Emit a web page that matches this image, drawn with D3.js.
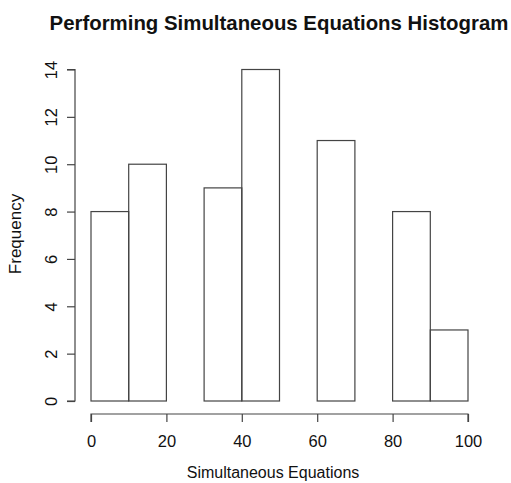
<!DOCTYPE html>
<html lang="en">
<head>
<meta charset="utf-8">
<title>Performing Simultaneous Equations Histogram</title>
<script src="https://d3js.org/d3.v7.min.js" charset="utf-8"></script>
<style>
  body { margin: 0; background: #fff; }
  text { font-family: "Liberation Sans", Arial, sans-serif; fill: #111; }
</style>
</head>
<body>
<script type="text/javascript">

 // Histogram data
 var binStarts = [0, 10, 20, 30, 40, 50, 60, 70, 80, 90];
 var binWidth = 10;
 var counts = [8, 10, 0, 9, 14, 0, 11, 0, 8, 3];
 var xTicks = [0, 20, 40, 60, 80, 100];
 var yTicks = [0, 2, 4, 6, 8, 10, 12, 14];

 var width = 511, height = 483;
 var fontSize = "16.5px";

 var svg = d3.select("body")
             .append("svg")
             .attr("width", width)
             .attr("height", height);

 var xScale = d3.scaleLinear().domain([0, 100]).range([91, 468]);
 var yScale = d3.scaleLinear().domain([0, 14]).range([401, 69.5]);

 var stroke = "#444";

 // bars
 svg.selectAll("rect.bar")
    .data(binStarts)
    .enter()
    .append("rect")
    .attr("class", "bar")
    .attr("x", function (d) { return xScale(d); })
    .attr("y", function (d, i) { return yScale(counts[i]); })
    .attr("width", function (d) { return xScale(d + binWidth) - xScale(d); })
    .attr("height", function (d, i) { return yScale(0) - yScale(counts[i]); })
    .attr("fill", "none")
    .attr("stroke", stroke)
    .attr("stroke-width", 1.2);

 // x axis
 var xAxis = d3.axisBottom(xScale)
               .tickValues(xTicks)
               .tickSize(8)
               .tickPadding(0)
               .tickFormat(d3.format("d"));

 var gx = svg.append("g")
             .attr("transform", "translate(0,414)")
             .call(xAxis);
 gx.select(".domain").attr("d", "M" + xScale(0) + ",8V0H" + xScale(100) + "V8").attr("stroke", stroke).attr("stroke-width", 1.2);
 gx.selectAll(".tick line").attr("stroke", stroke).attr("stroke-width", 1.2);
 gx.selectAll(".tick text")
   .style("font-size", fontSize)
   .style("font-family", "'Liberation Sans', Arial, sans-serif")
   .attr("fill", "#111")
   .attr("dy", null)
   .attr("y", 33);

 // y axis
 var yAxis = d3.axisLeft(yScale)
               .tickValues(yTicks)
               .tickSize(8)
               .tickPadding(0)
               .tickFormat(d3.format("d"));

 var gy = svg.append("g")
             .attr("transform", "translate(75,0)")
             .call(yAxis);
 gy.select(".domain").attr("d", "M-8," + yScale(0) + "H0V" + yScale(14) + "H-8").attr("stroke", stroke).attr("stroke-width", 1.2);
 gy.selectAll(".tick line").attr("stroke", stroke).attr("stroke-width", 1.2);
 gy.selectAll(".tick text")
   .style("font-size", fontSize)
   .style("font-family", "'Liberation Sans', Arial, sans-serif")
   .attr("fill", "#111")
   .attr("text-anchor", "middle")
   .attr("dy", null)
   .attr("x", null)
   .attr("transform", "translate(-18,0) rotate(-90)");

 // title
 svg.append("text")
    .text("Performing Simultaneous Equations Histogram")
    .attr("x", 279)
    .attr("y", 30)
    .attr("text-anchor", "middle")
    .style("font-size", "20.4px")
    .style("font-weight", "bold");

 // axis labels
 svg.append("text")
    .text("Simultaneous Equations")
    .attr("x", 273)
    .attr("y", 478)
    .attr("text-anchor", "middle")
    .style("font-size", "16px");

 svg.append("text")
    .text("Frequency")
    .attr("transform", "translate(21,234) rotate(-90)")
    .attr("text-anchor", "middle")
    .style("font-size", "17px");

</script>
</body>
</html>
